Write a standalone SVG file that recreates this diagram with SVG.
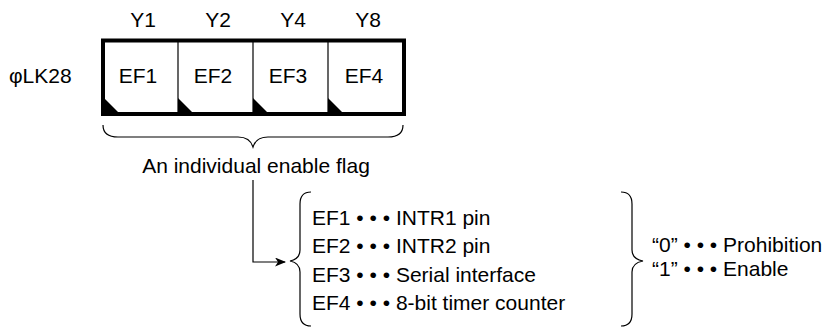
<svg xmlns="http://www.w3.org/2000/svg" width="830" height="327" viewBox="0 0 830 327">
<defs>
<style>
text{font-family:"Liberation Sans",Arial,sans-serif;font-size:21px;fill:#000}
.c{text-anchor:middle}
.thin{fill:none;stroke:#000;stroke-width:1.2}
.tri{fill:#000}
</style>
<marker id="ah" markerWidth="11" markerHeight="9" refX="10" refY="4.5" orient="auto" markerUnits="userSpaceOnUse">
<path d="M0,0 L11,4.5 L0,9 L3,4.5 Z" fill="#000"/>
</marker>
</defs>
<rect width="830" height="327" fill="#fff"/>
<g id="clock-label"><text x="9" y="83">φLK28</text></g>
<g id="y-labels">
<text class="c" x="143" y="27">Y1</text>
<text class="c" x="218" y="27">Y2</text>
<text class="c" x="293" y="27">Y4</text>
<text class="c" x="368" y="27">Y8</text>
</g>
<g id="register">
<rect x="103" y="40.5" width="301" height="73.5" fill="#fff" stroke="#000" stroke-width="4"/>
<line x1="178" y1="42" x2="178" y2="112" stroke="#000" stroke-width="1.2"/>
<line x1="253" y1="42" x2="253" y2="112" stroke="#000" stroke-width="1.2"/>
<line x1="328" y1="42" x2="328" y2="112" stroke="#000" stroke-width="1.2"/>
</g>
<g id="ef1"><path class="tri" d="M104,98 L104,113 L119,113 Z"/><text class="c" x="138" y="83">EF1</text></g>
<g id="ef2"><path class="tri" d="M178,98 L178,113 L193,113 Z"/><text class="c" x="213" y="83">EF2</text></g>
<g id="ef3"><path class="tri" d="M253,98 L253,113 L268,113 Z"/><text class="c" x="288" y="83">EF3</text></g>
<g id="ef4"><path class="tri" d="M328,98 L328,113 L343,113 Z"/><text class="c" x="364" y="83">EF4</text></g>
<g id="flag-brace">
<path class="thin" d="M103,125 Q103,137 118,137 L238,137 Q250,137 253,147 Q256,137 268,137 L388,137 Q403,137 403,125"/>
<text class="c" x="256" y="173">An individual enable flag</text>
</g>
<g id="connectors">
<path class="thin" d="M253,180 V262 H285" marker-end="url(#ah)"/>
</g>
<g id="flag-list">
<path class="thin" d="M311,192 Q300,192 300,204 L300,250 Q300,259 290,261 Q300,263 300,272 L300,314 Q300,326 311,326"/>
<text x="312" y="225">EF1 • • • INTR1 pin</text>
<text x="312" y="253">EF2 • • • INTR2 pin</text>
<text x="312" y="282">EF3 • • • Serial interface</text>
<text x="312" y="310">EF4 • • • 8-bit timer counter</text>
</g>
<g id="value-meaning">
<path class="thin" d="M621,192 Q632,192 632,204 L632,250 Q632,259 643,261 Q632,263 632,272 L632,314 Q632,326 621,326"/>
<text x="652" y="252">“0” • • • Prohibition</text>
<text x="652" y="276">“1” • • • Enable</text>
</g>
</svg>
